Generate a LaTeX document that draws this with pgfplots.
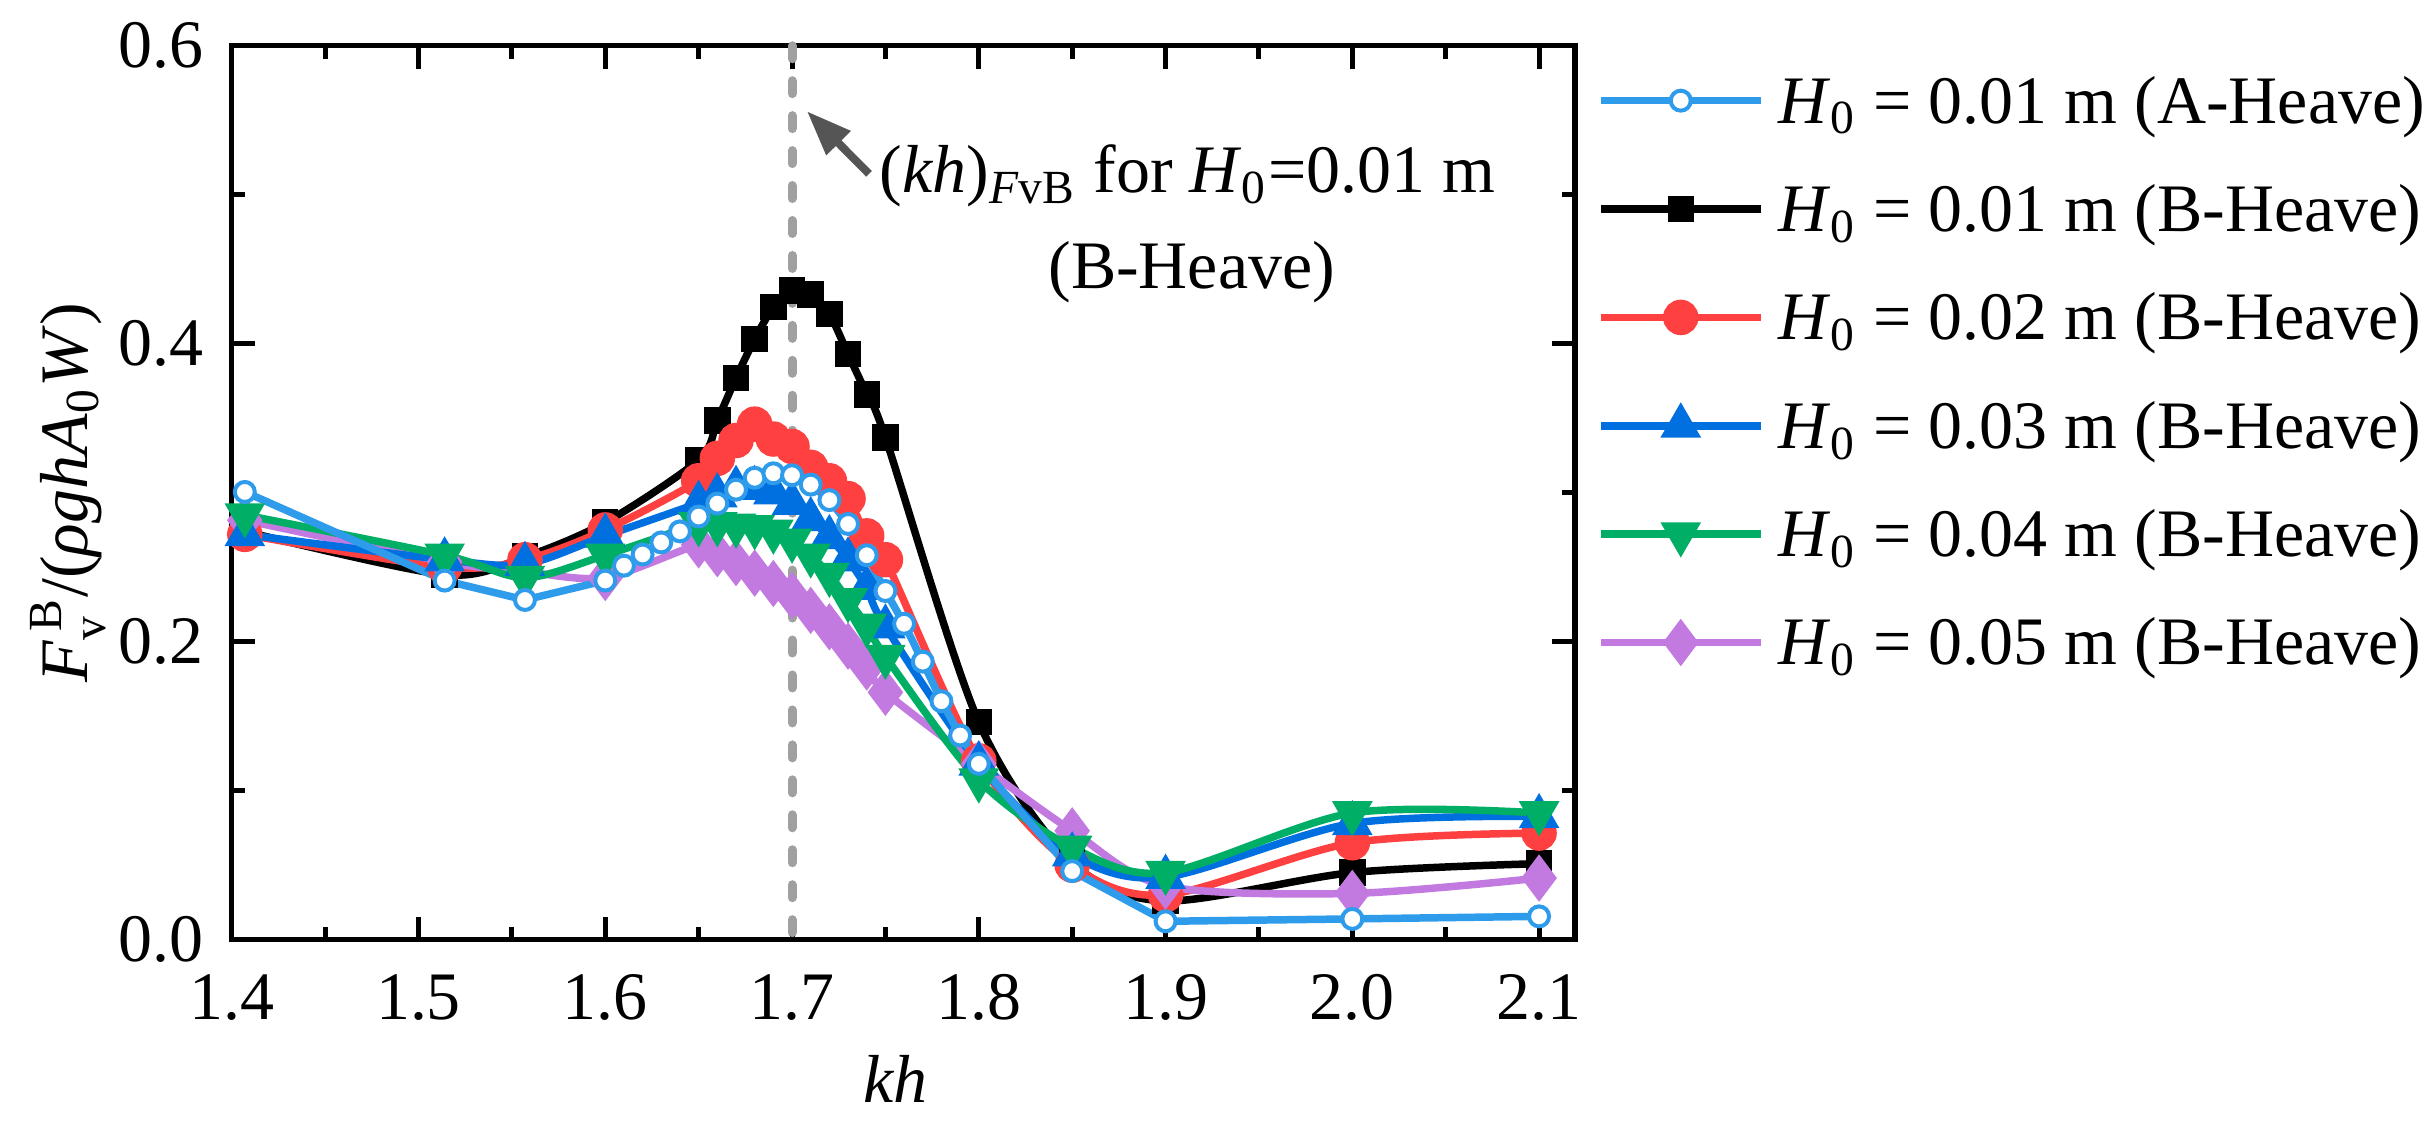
\documentclass[border=0pt]{standalone}
\usepackage{fontspec}
\setmainfont{Liberation Serif}
\usepackage{amsmath}
\usepackage{pgfplots}
\pgfplotsset{compat=1.18}
\usetikzlibrary{arrows.meta}
\definecolor{cA}{RGB}{46,155,235}
\definecolor{cR}{RGB}{255,64,64}
\definecolor{cB}{RGB}{0,112,224}
\definecolor{cG}{RGB}{0,174,102}
\definecolor{cP}{RGB}{194,122,224}
\definecolor{cD}{RGB}{160,160,160}
\definecolor{cArr}{RGB}{85,85,85}
\begin{document}
\fontsize{13.6}{16}\selectfont
\begin{tikzpicture}
\begin{axis}[
  scale only axis, width=269pt, height=179pt,
  xmin=1.4, xmax=2.1193, ymin=0, ymax=0.6,
  xtick={1.4,1.5,1.6,1.7,1.8,1.9,2.0,2.1},
  ytick={0,0.2,0.4,0.6},
  minor x tick num=1, minor y tick num=1,
  tick align=inside,
  major tick length=4.6pt, minor tick length=2.6pt,
  every tick/.style={black, line width=1pt},
  axis line style={line width=1.1pt},
  /pgf/number format/assume math mode=true,
  xticklabel style={/pgf/number format/.cd, fixed, fixed zerofill, precision=1, /tikz/.cd, yshift=-2.2pt},
  yticklabel style={/pgf/number format/.cd, fixed, fixed zerofill, precision=1, /tikz/.cd, xshift=-0.9pt},
  xlabel={\textit{kh}},
  xlabel style={at={(axis description cs:0.494,-0.156)}, anchor=center},
  ylabel={\textit{F}$_{\text{v}}^{\,\text{B}}$/(\textit{ρghA}$_{\text{0}}$\textit{W})},
  ylabel style={at={(axis description cs:-0.122,0.5)}, anchor=center},
  clip=false,
  legend cell align=left,
  legend style={at={(1,1)}, anchor=north west, xshift=4.2pt, yshift=-4.3pt,
    draw=none, fill=none, inner sep=0pt, row sep=8.7pt, column sep=2.8pt,
    nodes={inner sep=0pt, text height=11pt, text depth=2pt}},
  legend image code/.code={\draw[mark repeat=2,mark phase=2] plot coordinates {(0pt,0pt) (16pt,0pt) (32pt,0pt)};},
]
% legend entries
\addlegendimage{cA, line width=1.5pt, mark=*, mark size=2pt, mark options={fill=white, draw=cA, line width=0.8pt}}
\addlegendentry{\textit{H}\textsubscript{0} = 0.01 m (A-Heave)}
\addlegendimage{black, line width=1.5pt, mark=square*, mark size=1.9pt}
\addlegendentry{\textit{H}\textsubscript{0} = 0.01 m (B-Heave)}
\addlegendimage{cR, line width=1.5pt, mark=*, mark size=2.8pt}
\addlegendentry{\textit{H}\textsubscript{0} = 0.02 m (B-Heave)}
\addlegendimage{cB, line width=1.5pt, mark=triangle*, mark size=3.2pt}
\addlegendentry{\textit{H}\textsubscript{0} = 0.03 m (B-Heave)}
\addlegendimage{cG, line width=1.5pt, mark=triangle*, mark size=3.2pt, mark options={rotate=180}}
\addlegendentry{\textit{H}\textsubscript{0} = 0.04 m (B-Heave)}
\addlegendimage{cP, line width=1.5pt, mark=diamond*, mark size=3.5pt}
\addlegendentry{\textit{H}\textsubscript{0} = 0.05 m (B-Heave)}

% H0 = 0.01 m (B-Heave)
\addplot[forget plot, black, line width=1.5pt, smooth, mark=square*, mark size=1.9pt] coordinates {
(1.407,0.274) (1.514,0.245) (1.557,0.257) (1.600,0.280) (1.650,0.322) (1.660,0.3485)
(1.670,0.377) (1.680,0.403) (1.690,0.4245) (1.700,0.4357) (1.710,0.433) (1.720,0.420)
(1.730,0.393) (1.740,0.366) (1.750,0.337) (1.800,0.146) (1.850,0.052) (1.900,0.026)
(2.000,0.045) (2.100,0.051)};
% H0 = 0.02 m (B-Heave)
\addplot[forget plot, cR, line width=1.5pt, smooth, mark=*, mark size=2.8pt] coordinates {
(1.407,0.272) (1.514,0.250) (1.557,0.255) (1.600,0.275) (1.650,0.308) (1.660,0.323)
(1.670,0.335) (1.680,0.346) (1.690,0.336) (1.700,0.331) (1.710,0.317) (1.720,0.308)
(1.730,0.296) (1.740,0.271) (1.750,0.255) (1.800,0.120) (1.850,0.050) (1.900,0.030)
(2.000,0.065) (2.100,0.0715)};
% H0 = 0.05 m (B-Heave)
\addplot[forget plot, cP, line width=1.5pt, smooth, mark=diamond*, mark size=3.5pt] coordinates {
(1.407,0.2815) (1.514,0.2536) (1.557,0.247) (1.600,0.243) (1.650,0.265) (1.660,0.259)
(1.670,0.253) (1.680,0.246) (1.690,0.239) (1.700,0.231) (1.710,0.221) (1.720,0.210)
(1.730,0.197) (1.740,0.183) (1.750,0.166) (1.800,0.118) (1.850,0.073) (1.900,0.036)
(2.000,0.031) (2.100,0.0413)};
% H0 = 0.03 m (B-Heave)
\addplot[forget plot, cB, line width=1.5pt, smooth, mark=triangle*, mark size=3.2pt] coordinates {
(1.407,0.272) (1.514,0.255) (1.557,0.252) (1.600,0.271) (1.650,0.293) (1.660,0.298)
(1.670,0.303) (1.680,0.303) (1.690,0.300) (1.700,0.293) (1.710,0.282) (1.720,0.270)
(1.730,0.255) (1.740,0.236) (1.750,0.210) (1.800,0.118) (1.850,0.057) (1.900,0.042)
(2.000,0.078) (2.100,0.0827)};
% H0 = 0.04 m (B-Heave)
\addplot[forget plot, cG, line width=1.5pt, smooth, mark=triangle*, mark size=3.2pt, mark options={rotate=180}] coordinates {
(1.407,0.285) (1.514,0.258) (1.557,0.243) (1.600,0.258) (1.650,0.279) (1.660,0.279)
(1.670,0.278) (1.680,0.277) (1.690,0.274) (1.700,0.268) (1.710,0.258) (1.720,0.245)
(1.730,0.228) (1.740,0.211) (1.750,0.190) (1.800,0.107) (1.850,0.062) (1.900,0.045)
(2.000,0.085) (2.100,0.085)};
% H0 = 0.01 m (A-Heave)
\addplot[forget plot, cA, line width=1.5pt, mark=*, mark size=2pt, mark options={fill=white, draw=cA, line width=0.8pt}] coordinates {
(1.407,0.3005) (1.514,0.241) (1.557,0.228) (1.600,0.241) (1.610,0.251) (1.620,0.2585)
(1.630,0.2666) (1.640,0.274) (1.650,0.284) (1.660,0.2927) (1.670,0.302) (1.680,0.310)
(1.690,0.313) (1.700,0.3117) (1.710,0.3054) (1.720,0.295) (1.730,0.279) (1.740,0.258)
(1.750,0.234) (1.760,0.212) (1.770,0.1866) (1.780,0.160) (1.790,0.137) (1.800,0.118)
(1.850,0.046) (1.900,0.0123) (2.000,0.0139) (2.100,0.0156)};
% vertical dashed line at kh = 1.7
\addplot[forget plot, cD, line width=1.8pt, line cap=round, dash pattern=on 2.6pt off 4.4pt] coordinates {(1.7,0.6) (1.7,0)};
% annotation
\draw[cArr, line width=1.6pt, -{Triangle[length=9pt,width=6.5pt]}] (axis cs:1.7412,0.514) -- (axis cs:1.708,0.556);
\node[anchor=base west, inner sep=0pt] at (axis cs:1.7465,0.5013) {(\textit{kh})\textsubscript{\textit{F}vB} for \textit{H}\textsubscript{0}=0.01 m};
\node[anchor=base, inner sep=0pt] at (axis cs:1.914,0.437) {(B-Heave)};
% canvas
\path (axis description cs:-0.1725,-0.2112) rectangle (axis description cs:1.6305,1.0503);
\end{axis}
\end{tikzpicture}
\end{document}
